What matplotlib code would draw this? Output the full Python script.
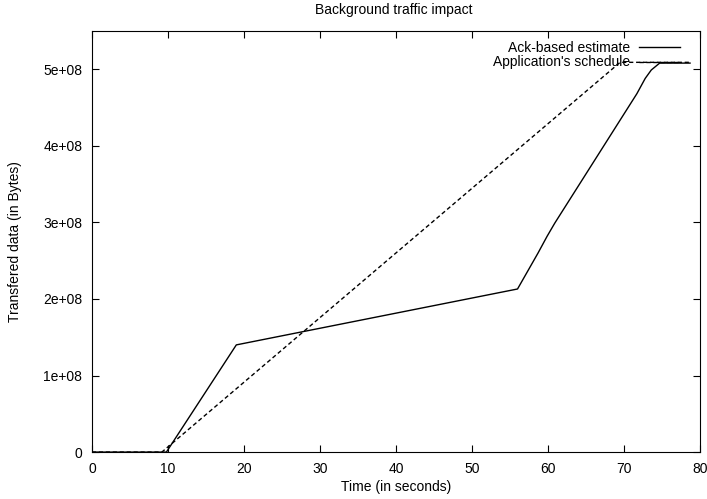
import matplotlib
matplotlib.use("Agg")
import matplotlib.pyplot as plt
from matplotlib.ticker import FuncFormatter, MultipleLocator

# Ack-based estimate (time in s, bytes)
ack_t = [0, 9.8, 19.0, 56.0, 58.7, 59.9, 60.9, 71.7, 72.8, 73.6, 74.7, 78.7]
ack_y = [0, 0, 1.40e8, 2.13e8, 2.60e8, 2.82e8, 2.99e8, 4.68e8, 4.88e8, 4.99e8, 5.08e8, 5.08e8]

# Application's schedule
sched_t = [0, 9.2, 69.5, 78.7]
sched_y = [0, 0, 5.09e8, 5.09e8]

plt.rcParams['font.family'] = ['Liberation Sans', 'DejaVu Sans']
plt.rcParams['font.size'] = 10

fig = plt.figure(figsize=(7.07, 4.99), dpi=100)
ax = fig.add_axes([0.130, 0.094, 0.860, 0.844])

ax.plot(ack_t, ack_y, color='black', linewidth=1.0, label='Ack-based estimate')
ax.plot(sched_t, sched_y, color='black', linewidth=1.0, linestyle=(0, (3, 2)),
        label="Application's schedule")

ax.set_xlim(0, 80)
ax.set_ylim(0, 5.5e8)
ax.xaxis.set_major_locator(MultipleLocator(10))
ax.yaxis.set_major_locator(MultipleLocator(1e8))
ax.yaxis.set_major_formatter(FuncFormatter(lambda v, p: '0' if v == 0 else f'{int(round(v / 1e8))}e+08'))
ax.tick_params(direction='in', top=True, right=True, length=5, width=0.8, labelsize=10)
ax.tick_params(axis='y', pad=7)
ax.tick_params(axis='x', pad=7)
for s in ax.spines.values():
    s.set_linewidth(0.8)

ax.set_title('Background traffic impact', fontsize=10, x=0.497, pad=12)
ax.set_xlabel('Time (in seconds)', fontsize=10)
ax.set_ylabel('Transfered data (in Bytes)', fontsize=10)
ax.xaxis.label.set_va('center')
ax.yaxis.label.set_va('center')
ax.xaxis.set_label_coords(0.5, -0.083)
ax.yaxis.set_label_coords(-0.127, 0.5)

ax.legend(loc='upper right', bbox_to_anchor=(0.985, 1.003), frameon=False,
          markerfirst=False, handlelength=2.9, handletextpad=0.65,
          labelspacing=0.05, borderpad=0.3, fontsize=10)

fig.savefig('out.png', dpi=100)
